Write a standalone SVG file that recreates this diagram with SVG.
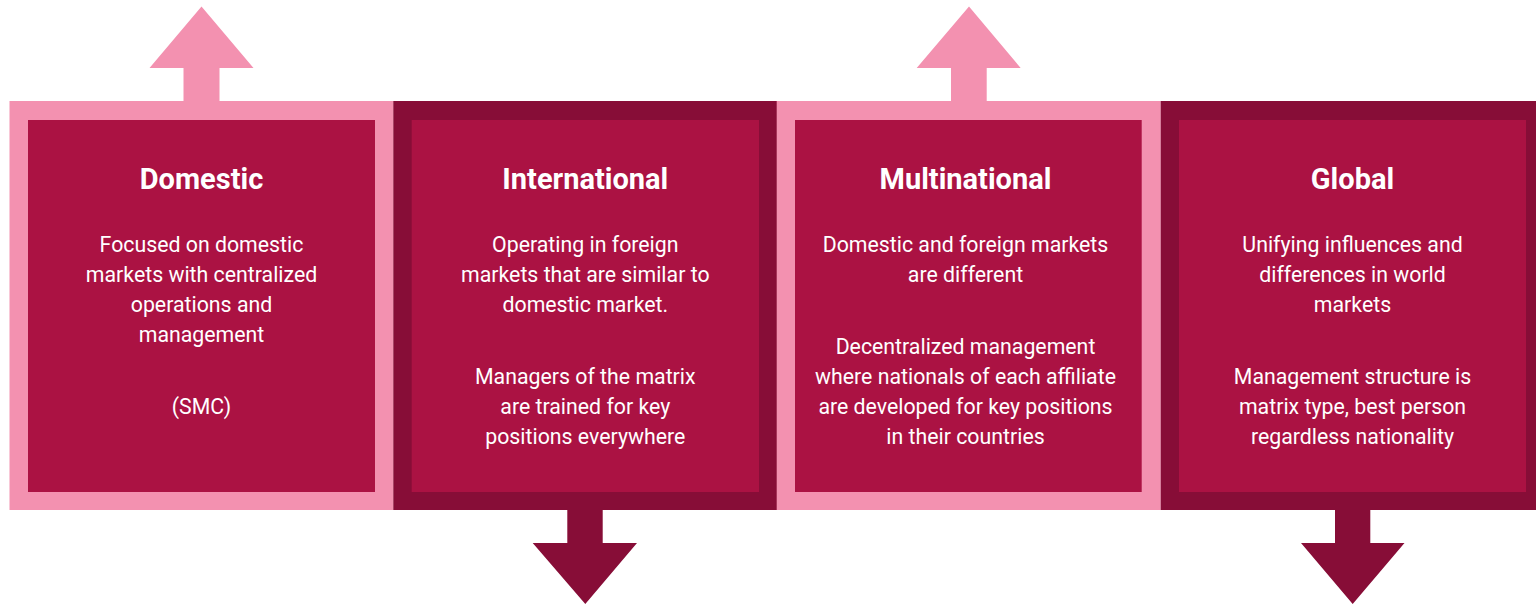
<svg xmlns="http://www.w3.org/2000/svg" width="1536" height="605" viewBox="0 0 1536 605">
  <style>
    .pink { fill: #F391B0; }
    .dark { fill: #870D37; }
    .inner { fill: #AB1243; }
    .title { font-family: Roboto, "Liberation Sans", sans-serif; font-weight: 700; font-size: 29px; fill: #FFFFFF; text-anchor: middle; }
    .body { font-family: Roboto, "Liberation Sans", sans-serif; font-weight: 400; font-size: 21.3px; fill: #FFFFFF; text-anchor: middle; }
  </style>
  <rect width="1536" height="605" fill="#FFFFFF"/>

  <!-- arrows leaving the stages -->
  <g id="connectors">
    <polygon class="pink" points="183.5,101 183.5,68 149.5,68 201.5,6.5 253.5,68 219.5,68 219.5,101"/>
    <polygon class="dark" points="567.3,510 567.3,543 532.7,543 585.3,604 637,543 602.7,543 602.7,510"/>
    <polygon class="pink" points="951,101 951,68 916.7,68 969,6.5 1020.7,68 986.7,68 986.7,101"/>
    <polygon class="dark" points="1335,510 1335,543 1301,543 1352.7,604 1404.5,543 1370.3,543 1370.3,510"/>
  </g>

  <g id="domestic">
    <rect class="pink" x="9.5" y="101" width="384" height="409"/>
    <rect class="inner" x="28" y="120" width="347" height="372"/>
    <text class="title" x="201.5" y="189">Domestic</text>
    <text class="body" x="201.5" y="251.5">Focused on domestic</text>
    <text class="body" x="201.5" y="281.5">markets with centralized</text>
    <text class="body" x="201.5" y="311.5">operations and</text>
    <text class="body" x="201.5" y="341.5">management</text>
    <text class="body" x="201.5" y="414">(SMC)</text>
  </g>

  <g id="international">
    <rect class="dark" x="393.3" y="101" width="383.7" height="409"/>
    <rect class="inner" x="411.7" y="120" width="347.3" height="372"/>
    <text class="title" x="585.3" y="189">International</text>
    <text class="body" x="585.3" y="251.5">Operating in foreign</text>
    <text class="body" x="585.3" y="281.5">markets that are similar to</text>
    <text class="body" x="585.3" y="311.5">domestic market.</text>
    <text class="body" x="585.3" y="384">Managers of the matrix</text>
    <text class="body" x="585.3" y="414">are trained for key</text>
    <text class="body" x="585.3" y="444">positions everywhere</text>
  </g>

  <g id="multinational">
    <rect class="pink" x="776.7" y="101" width="384" height="409"/>
    <rect class="inner" x="795" y="120" width="346.7" height="372"/>
    <text class="title" x="965.5" y="189">Multinational</text>
    <text class="body" x="965.5" y="251.5">Domestic and foreign markets</text>
    <text class="body" x="965.5" y="281.5">are different</text>
    <text class="body" x="965.5" y="353.5">Decentralized management</text>
    <text class="body" x="965.5" y="383.5">where nationals of each affiliate</text>
    <text class="body" x="965.5" y="413.5">are developed for key positions</text>
    <text class="body" x="965.5" y="443.5">in their countries</text>
  </g>

  <g id="global">
    <rect class="dark" x="1160.7" y="101" width="384" height="409"/>
    <rect class="inner" x="1179" y="120" width="347" height="372"/>
    <text class="title" x="1352.5" y="189">Global</text>
    <text class="body" x="1352.5" y="251.5">Unifying influences and</text>
    <text class="body" x="1352.5" y="281.5">differences in world</text>
    <text class="body" x="1352.5" y="311.5">markets</text>
    <text class="body" x="1352.5" y="383.5">Management structure is</text>
    <text class="body" x="1352.5" y="413.5">matrix type, best person</text>
    <text class="body" x="1352.5" y="443.5">regardless nationality</text>
  </g>
</svg>
